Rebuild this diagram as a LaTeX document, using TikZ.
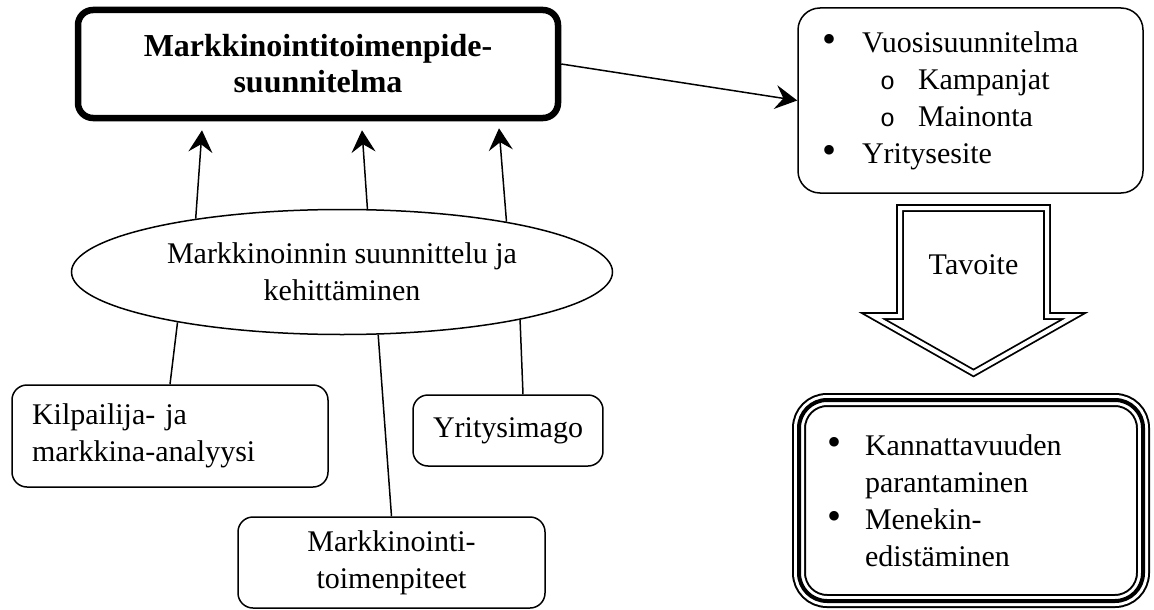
\documentclass[tikz,border=0pt]{standalone}
\usepackage{fontspec}
\setmainfont{Liberation Serif}
\newfontfamily\ringfont{Liberation Mono}
\usetikzlibrary{arrows.meta,%
                shapes.geometric}

\newcommand{\listdot}[1][40pt]{\makebox[#1][l]{\fontsize{40}{40}\selectfont\textbullet}}
\newcommand{\listring}{\makebox[38pt][l]{\ringfont\fontsize{25}{25}\selectfont o}}

\begin{document}
\begin{tikzpicture}[x=1pt, y=-1pt, >={Stealth[length=22pt, width=24pt, inset=8pt]}]
  \tikzstyle{every node} = [font=\fontsize{30}{37}\selectfont]
  \tikzstyle{box} = [draw, rectangle, rounded corners=15pt, line width=1.5pt]
  \tikzstyle{link} = [line width=1.5pt]
\tikzset{tripleframe/.style={draw=white, line width=10pt,
                             preaction={draw=black, line width=14pt},
                             postaction={draw=black, line width=4pt}}}
\useasboundingbox (0,0) rectangle (1154,610);

\node[box, line width=6.5pt, font=\bfseries\fontsize{32}{36}\selectfont, align=center,
      minimum width=480pt, minimum height=108pt] (plan) at (318,64) {Markkinointitoimenpide-\\suunnitelma};
\node[draw, ellipse, line width=1.5pt, inner sep=0pt, align=center,
      minimum width=541pt, minimum height=125pt] (kehitys) at (342,272) {Markkinoinnin suunnittelu ja\\kehittäminen};

\node[box, align=left, text width=276pt, inner xsep=20pt,
      minimum height=102pt] (analyysi) at (170,436) {Kilpailija- ja\\markkina-analyysi};
\node[box, align=center, minimum width=307pt, minimum height=91pt] (toimet) at (391.5,562.5) {Markkinointi-\\toimenpiteet};
\node[box, align=left, inner xsep=20pt, minimum height=71pt] (imago) at (508,430.5) {Yritysimago};

\node[box, rounded corners=22pt, align=left, text width=297pt, inner xsep=24pt,
      minimum height=185pt] (vuosi) at (970.5,100.5)
  {\listdot Vuosisuunnitelma\\
   \hspace*{58pt}\listring Kampanjat\\
   \hspace*{58pt}\listring Mainonta\\
   \listdot Yritysesite};
\node[rectangle, rounded corners=28pt, tripleframe, align=left, text width=288pt, inner xsep=28pt,
      minimum height=201pt] (tulos) at (971,500.5)
  {\listdot[38pt]Kannattavuuden\\
   \hspace*{38pt}parantaminen\\
   \listdot[38pt]Menekin-\\
   \hspace*{38pt}edistäminen};

\draw[link, ->] (kehitys.160) -- ([xshift=-116pt, yshift=-9pt]plan.south);
\draw[link, ->] (kehitys.68) -- ([xshift=44pt, yshift=-9pt]plan.south);
\draw[link, ->] (kehitys.17) -- ([xshift=181pt, yshift=-7pt]plan.south);
\draw[link, ->] (plan.east) -- (vuosi.west);

\draw[link] (kehitys.197) -- (analyysi.north);
\draw[link] (kehitys.300) -- (toimet.north);
\draw[link] (kehitys.345) -- ([xshift=15pt]imago.north);

\draw[line width=1.8pt, double=white, double distance=4pt]
  (900,208) -- (1047,208) -- (1047,316) -- (1074,316) -- (973.5,373)
  -- (873,316) -- (900,316) -- cycle;
\node (tavoite) at (973.5,265) {Tavoite};

\end{tikzpicture}
\end{document}
